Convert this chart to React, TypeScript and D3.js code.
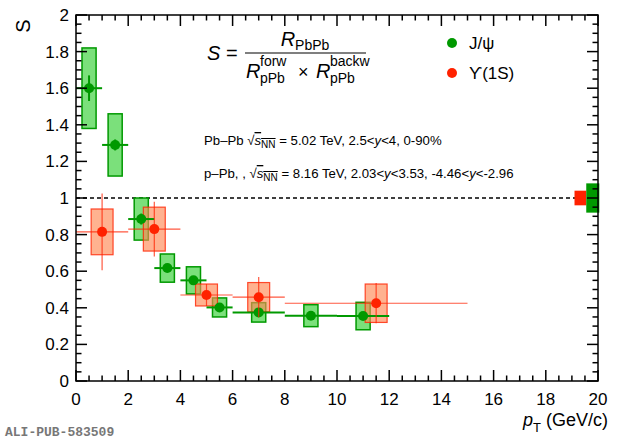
import * as d3 from "d3";

const W = 620;
const H = 441;
const MARGIN = { top: 15, right: 22, bottom: 60, left: 76 };

// J/psi
const jpsiPt = [0.5, 1.5, 2.5, 3.5, 4.5, 5.5, 7, 9, 11];
const jpsiPtLo = [0, 1, 2, 3, 4, 5, 6, 8, 10];
const jpsiPtHi = [1, 2, 3, 4, 5, 6, 8, 10, 12];
const jpsiS = [1.6, 1.29, 0.885, 0.617, 0.55, 0.402, 0.375, 0.357, 0.355];
const jpsiStat = [0.07, 0.03, 0.03, 0.02, 0.02, 0.015, 0.02, 0.02, 0.02];
const jpsiSyst = [0.22, 0.17, 0.115, 0.077, 0.074, 0.052, 0.053, 0.06, 0.075];
const jpsiGlobal = 0.08;

// Upsilon(1S)
const upsPt = [1, 3, 5, 7, 11.5];
const upsPtLo = [0, 2, 4, 6, 8];
const upsPtHi = [2, 4, 6, 8, 15];
const upsS = [0.815, 0.83, 0.47, 0.458, 0.425];
const upsStat = [0.21, 0.15, 0.06, 0.11, 0.11];
const upsSyst = [0.125, 0.12, 0.06, 0.08, 0.105];
const upsGlobal = 0.04;

const xTicks = [0, 2, 4, 6, 8, 10, 12, 14, 16, 18, 20];
const yTicks = [0, 0.2, 0.4, 0.6, 0.8, 1, 1.2, 1.4, 1.6, 1.8, 2];
const yTickLabels = ["0", "0.2", "0.4", "0.6", "0.8", "1", "1.2", "1.4", "1.6", "1.8", "2"];

const GREEN = "#009900";
const GREEN_FILL = "#5ad85a";
const RED = "#ff2200";
const RED_FILL = "#ff8855";
const FONT = "Liberation Sans, Arial, sans-serif";

export default function App() {
  const x = d3.scaleLinear().domain([0, 20]).range([MARGIN.left, W - MARGIN.right]);
  const y = d3.scaleLinear().domain([0, 2]).range([H - MARGIN.bottom, MARGIN.top]);
  const [x0, x1] = x.range();
  const [y0, y1] = y.range();

  const xMinor = d3.range(0, 20.01, 0.5);
  const yMinor = d3.range(0, 2.001, 0.05);

  const jpsiBoxHalf = 0.27;
  const upsBoxHalf = 0.42;

  return (
    <div style={{ position: "fixed", left: 0, top: 0 }}>
      <svg width={W} height={H} style={{ display: "block", background: "#fff" }} fontFamily={FONT}>
        {/* dashed line at 1 */}
        <line x1={x0} x2={x1} y1={y(1)} y2={y(1)} stroke="#000" strokeWidth={1.3} strokeDasharray="4,3" />

        {/* J/psi systematic boxes */}
        {jpsiS.map((s, i) => (
          <rect
            key={"jb" + i}
            x={x(jpsiPt[i] - jpsiBoxHalf)}
            width={x(jpsiPt[i] + jpsiBoxHalf) - x(jpsiPt[i] - jpsiBoxHalf)}
            y={y(s + jpsiSyst[i])}
            height={y(s - jpsiSyst[i]) - y(s + jpsiSyst[i])}
            fill={GREEN_FILL}
            fillOpacity={0.8}
            stroke={GREEN}
            strokeWidth={1.5}
          />
        ))}

        {/* Upsilon systematic boxes */}
        {upsS.map((s, i) => (
          <rect
            key={"ub" + i}
            x={x(upsPt[i] - upsBoxHalf)}
            width={x(upsPt[i] + upsBoxHalf) - x(upsPt[i] - upsBoxHalf)}
            y={y(s + upsSyst[i])}
            height={y(s - upsSyst[i]) - y(s + upsSyst[i])}
            fill={RED_FILL}
            fillOpacity={0.65}
            stroke={RED}
            strokeOpacity={0.8}
            strokeWidth={1.2}
          />
        ))}

        {/* J/psi error bars and markers */}
        {jpsiS.map((s, i) => (
          <g key={"jp" + i}>
            <line x1={x(jpsiPtLo[i])} x2={x(jpsiPtHi[i])} y1={y(s)} y2={y(s)} stroke={GREEN} strokeWidth={2} />
            <line x1={x(jpsiPt[i])} x2={x(jpsiPt[i])} y1={y(s + jpsiStat[i])} y2={y(s - jpsiStat[i])} stroke={GREEN} strokeWidth={2} />
            <circle cx={x(jpsiPt[i])} cy={y(s)} r={5} fill={GREEN} />
          </g>
        ))}

        {/* Upsilon error bars and markers */}
        {upsS.map((s, i) => (
          <g key={"up" + i}>
            <line x1={x(upsPtLo[i])} x2={x(upsPtHi[i])} y1={y(s)} y2={y(s)} stroke={RED} strokeOpacity={0.75} strokeWidth={1.2} />
            <line x1={x(upsPt[i])} x2={x(upsPt[i])} y1={y(s + upsStat[i])} y2={y(s - upsStat[i])} stroke={RED} strokeOpacity={0.75} strokeWidth={1.2} />
            <circle cx={x(upsPt[i])} cy={y(s)} r={5} fill={RED} />
          </g>
        ))}

        {/* global uncertainties */}
        <rect
          x={x(19.1)}
          width={x(19.55) - x(19.1)}
          y={y(1 + upsGlobal)}
          height={y(1 - upsGlobal) - y(1 + upsGlobal)}
          fill={RED}
        />
        <rect
          x={x(19.55)}
          width={x(20.05) - x(19.55)}
          y={y(1 + jpsiGlobal)}
          height={y(1 - jpsiGlobal) - y(1 + jpsiGlobal)}
          fill={GREEN}
        />

        {/* frame */}
        <rect x={x0} y={y1} width={x1 - x0} height={y0 - y1} fill="none" stroke="#000" strokeWidth={1.5} />

        {/* x ticks (bottom and top, inward) */}
        {xMinor.map((t) => {
          const major = Math.abs(t / 2 - Math.round(t / 2)) < 1e-6;
          const len = major ? 11 : 5.5;
          return (
            <g key={"xt" + t}>
              <line x1={x(t)} x2={x(t)} y1={y0} y2={y0 - len} stroke="#000" strokeWidth={1.5} />
              <line x1={x(t)} x2={x(t)} y1={y1} y2={y1 + len} stroke="#000" strokeWidth={1.5} />
            </g>
          );
        })}
        {/* y ticks (left and right, inward) */}
        {yMinor.map((t) => {
          const major = Math.abs(t / 0.2 - Math.round(t / 0.2)) < 1e-6;
          const len = major ? 11 : 5.5;
          return (
            <g key={"yt" + t}>
              <line x1={x0} x2={x0 + len} y1={y(t)} y2={y(t)} stroke="#000" strokeWidth={1.5} />
              <line x1={x1} x2={x1 - len} y1={y(t)} y2={y(t)} stroke="#000" strokeWidth={1.5} />
            </g>
          );
        })}

        {/* tick labels */}
        {xTicks.map((t) => (
          <text key={"xl" + t} x={x(t)} y={y0 + 24} fontSize={17} textAnchor="middle">
            {t}
          </text>
        ))}
        {yTicks.map((t, i) => (
          <text key={"yl" + t} x={x0 - 7} y={y(t) + 6} fontSize={17} textAnchor="end">
            {yTickLabels[i]}
          </text>
        ))}

        {/* axis titles */}
        <text x={30} y={26} fontSize={20} transform="rotate(-90 30 26)" textAnchor="middle">
          S
        </text>
        <text x={608} y={426} fontSize={18} textAnchor="end">
          <tspan fontStyle="italic">p</tspan>
          <tspan fontSize={13} dy={6}>T</tspan>
          <tspan dy={-6}> (GeV/c)</tspan>
        </text>

        {/* formula */}
        <text x={207} y={60} fontSize={20}>
          <tspan fontStyle="italic">S</tspan>
          <tspan> =</tspan>
        </text>
        <text x={305} y={46} fontSize={20} textAnchor="middle">
          <tspan fontStyle="italic">R</tspan>
          <tspan fontSize={14} dy={4}>PbPb</tspan>
        </text>
        <line x1={245} x2={366} y1={53} y2={53} stroke="#000" strokeWidth={1.2} />
        <text x={246} y={78} fontSize={20}>
          <tspan fontStyle="italic">R</tspan>
          <tspan x={260} fontSize={14} dy={-12}>forw</tspan>
          <tspan x={260} fontSize={14} dy={17}>pPb</tspan>
          <tspan x={298} fontSize={18} dy={-5}>×</tspan>
          <tspan x={316} fontStyle="italic" dy={0}>R</tspan>
          <tspan x={330} fontSize={14} dy={-12}>backw</tspan>
          <tspan x={330} fontSize={14} dy={17}>pPb</tspan>
        </text>

        {/* legend */}
        <circle cx={452} cy={43} r={5} fill={GREEN} />
        <text x={469} y={49} fontSize={17}>J/ψ</text>
        <circle cx={452} cy={73} r={5} fill={RED} />
        <text x={469} y={79} fontSize={17}>ϒ(1S)</text>

        {/* info text */}
        <text x={204} y={145} fontSize={13.2}>
          <tspan>Pb–Pb </tspan>
          <tspan>√</tspan>
          <tspan fontStyle="italic" textDecoration="overline">s</tspan>
          <tspan fontSize={10} dy={3} textDecoration="overline">NN</tspan>
          <tspan dy={-3}> = 5.02 TeV, 2.5&lt;</tspan>
          <tspan fontStyle="italic">y</tspan>
          <tspan>&lt;4, 0-90%</tspan>
        </text>
        <text x={204} y={178} fontSize={13.2}>
          <tspan>p–Pb, , </tspan>
          <tspan>√</tspan>
          <tspan fontStyle="italic" textDecoration="overline">s</tspan>
          <tspan fontSize={10} dy={3} textDecoration="overline">NN</tspan>
          <tspan dy={-3}> = 8.16 TeV, 2.03&lt;</tspan>
          <tspan fontStyle="italic">y</tspan>
          <tspan>&lt;3.53, -4.46&lt;</tspan>
          <tspan fontStyle="italic">y</tspan>
          <tspan>&lt;-2.96</tspan>
        </text>

        {/* label */}
        <text x={5} y={436} fontSize={13} fontFamily="Liberation Mono, DejaVu Sans Mono, monospace" fontWeight="bold" fill="#777">
          ALI-PUB-583509
        </text>
      </svg>
    </div>
  );
}
